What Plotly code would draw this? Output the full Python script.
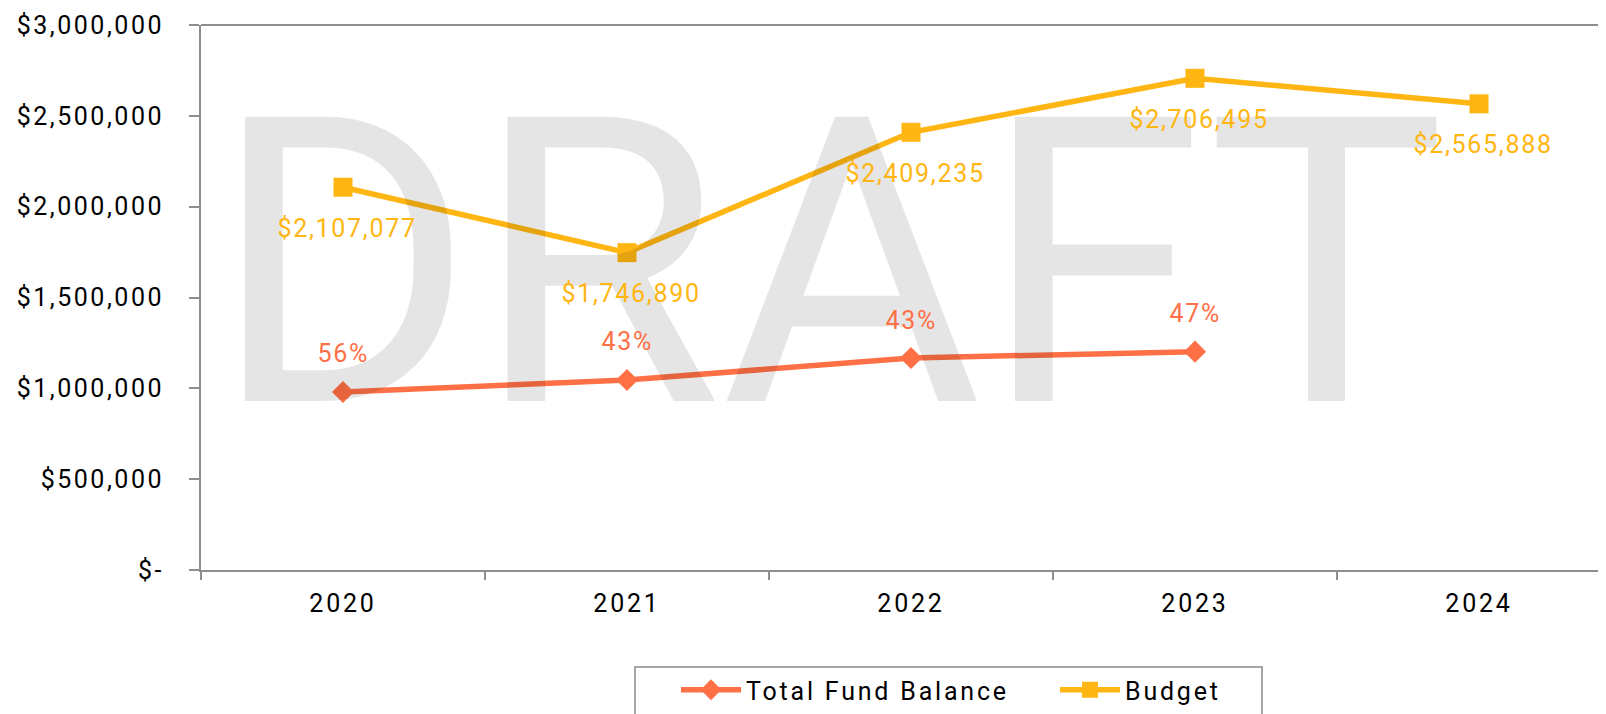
import plotly.graph_objects as go

years = ["2020", "2021", "2022", "2023", "2024"]
fund_balance = [980000, 1046000, 1167000, 1202000, None]
fund_labels = ["56%", "43%", "43%", "47%", ""]
budget = [2107077, 1746890, 2409235, 2706495, 2565888]
budget_labels = ["$2,107,077", "$1,746,890", "$2,409,235", "$2,706,495", "$2,565,888"]
y_tickvals = [0, 500000, 1000000, 1500000, 2000000, 2500000, 3000000]
y_ticktext = ["$-", "$500,000", "$1,000,000", "$1,500,000", "$2,000,000", "$2,500,000", "$3,000,000"]

FUND_COLOR = "#FF7046"
BUDGET_COLOR = "#FFB612"
AXIS_COLOR = "#8E8E8E"
FONT = "Roboto"

PAGE_OFF = 8  # default body margin of the html page
W, H = 1606 - PAGE_OFF, 714 - PAGE_OFF
L, R, T = 201 - PAGE_OFF, 0, 25 - PAGE_OFF
B = H - (570 - PAGE_OFF)
plot_w = W - L - R
plot_h = H - T - B


def px_x(px):
    return (px - PAGE_OFF - L) / plot_w


def px_y(py):
    return (H - B - (py - PAGE_OFF)) / plot_h


fig = go.Figure()
fig.add_trace(go.Scatter(
    x=years, y=fund_balance, name="Total Fund Balance", mode="lines+markers",
    line=dict(color=FUND_COLOR, width=5.5),
    marker=dict(symbol="diamond", size=17, color=FUND_COLOR),
))
fig.add_trace(go.Scatter(
    x=years, y=budget, name="Budget", mode="lines+markers",
    line=dict(color=BUDGET_COLOR, width=5.5),
    marker=dict(symbol="square", size=19, color=BUDGET_COLOR),
))

annotations = [dict(
    text="DRAFT", xref="paper", yref="paper", x=px_x(829), y=px_y(264.5),
    xanchor="center", yanchor="middle", showarrow=False,
    font=dict(family=FONT, size=400, color="rgba(0,0,0,0.1)"),
)]
for i, (yv, lab) in enumerate(zip(fund_balance, fund_labels)):
    if yv is None or not lab:
        continue
    annotations.append(dict(
        text=lab, x=i, y=yv, xref="x", yref="y", showarrow=False,
        xanchor="center", yanchor="middle", yshift=38,
        font=dict(family=FONT, size=25, color=FUND_COLOR),
    ))
for i, (yv, lab) in enumerate(zip(budget, budget_labels)):
    annotations.append(dict(
        text=lab, x=i, y=yv, xref="x", yref="y", showarrow=False,
        xanchor="center", yanchor="middle", yshift=-41, xshift=4,
        font=dict(family=FONT, size=25, color=BUDGET_COLOR),
    ))

shapes = [
    dict(type="line", xref="paper", yref="paper", x0=0, x1=1, y0=1, y1=1,
         line=dict(color=AXIS_COLOR, width=2)),
    dict(type="rect", xref="paper", yref="paper",
         x0=px_x(635), x1=px_x(1262), y0=px_y(667), y1=px_y(740),
         line=dict(color="#A6A6A6", width=2), fillcolor="rgba(0,0,0,0)"),
]

fig.update_layout(
    width=W, height=H,
    margin=dict(l=L, r=R, t=T, b=B, autoexpand=False),
    paper_bgcolor="white", plot_bgcolor="white",
    font=dict(family=FONT, size=25, color="#000000"),
    showlegend=True,
    legend=dict(orientation="h", x=px_x(676), y=px_y(667), xanchor="left", yanchor="top",
                bgcolor="rgba(0,0,0,0)", borderwidth=0, entrywidth=304, itemwidth=60,
                font=dict(family=FONT, size=25, color="#000000")),
    annotations=annotations,
    shapes=shapes,
)
fig.update_xaxes(
    type="category", range=[-0.5, -0.5 + plot_w / 284], showline=True, linecolor=AXIS_COLOR,
    linewidth=2, ticks="outside", tickson="boundaries", ticklen=8, tickcolor=AXIS_COLOR,
    tickwidth=2, showgrid=False, zeroline=False, ticklabelstandoff=10,
    tickfont=dict(family=FONT, size=25, color="#000000"),
)
fig.update_yaxes(
    range=[0, 3000000], tickvals=y_tickvals, ticktext=y_ticktext, showline=True,
    linecolor=AXIS_COLOR, linewidth=2, ticks="outside", ticklen=10, tickcolor=AXIS_COLOR,
    tickwidth=2, showgrid=False, zeroline=False, ticklabelstandoff=20,
    tickfont=dict(family=FONT, size=25, color="#000000"),
)

# the reference text is set slightly wider than the plain font metrics
css = (".xtick text{letter-spacing:2.8px}"
       ".ytick text{letter-spacing:2.5px}"
       ".legendtext{letter-spacing:2.8px}"
       ".annotation:not([data-index='0']) text{letter-spacing:1.7px}")
post = ("var s=document.createElement('style');s.textContent=\"" + css + "\";"
        "document.head.appendChild(s);")

fig.write_html("out.html", post_script=post)
